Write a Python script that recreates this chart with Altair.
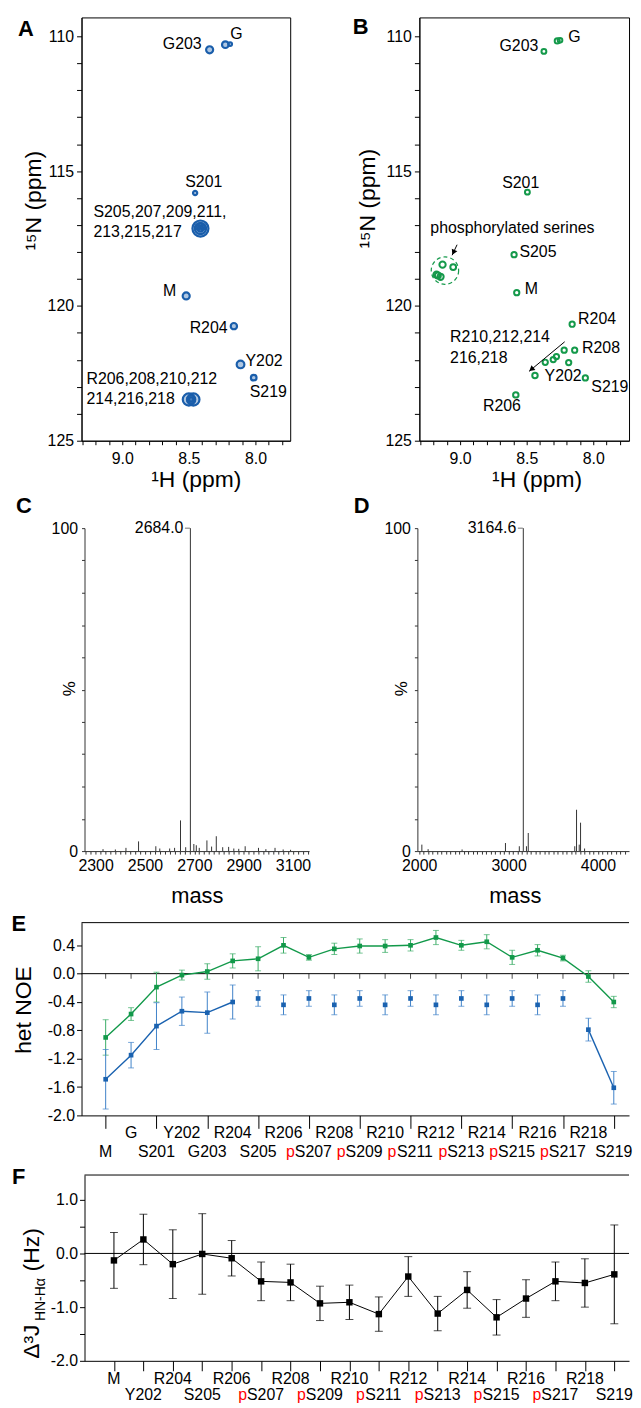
import altair as alt
import pandas as pd

# ============================== DATA ==============================
# ---- Panel A: 1H-15N HSQC, unphosphorylated peptide (1H ppm, 15N ppm) ----
A_peak_h = [8.344, 8.226, 8.190, 8.453, 8.413, 8.413, 8.413, 8.395, 8.432, 8.520,
            8.162, 8.112, 8.013, 8.500, 8.466, 8.483, 8.483]
A_peak_n = [110.50, 110.31, 110.29, 115.81, 117.13, 117.13, 117.13, 117.08, 117.08, 119.63,
            120.75, 122.17, 122.66, 123.47, 123.47, 123.47, 123.47]
A_labels = ["G203", "G", "S201", "S205,207,209,211,", "213,215,217", "M", "R204", "Y202",
            "S219", "R206,208,210,212", "214,216,218"]
A_label_h = [8.344, 8.226, 8.453, 8.413, 8.413, 8.520, 8.162, 8.112, 8.013, 8.483, 8.483]
A_label_n = [110.50, 110.31, 115.81, 117.13, 117.13, 119.63, 120.75, 122.17, 122.66, 123.47, 123.47]

# ---- Panel B: 1H-15N HSQC, phosphorylated peptide ----
B_peak_h = [8.371, 8.271, 8.250, 8.495, 8.595, 8.575, 9.132, 9.052, 9.177, 9.147, 9.167,
            8.159, 8.140, 8.219, 8.277, 8.301, 8.361, 8.185, 8.438, 8.060, 8.582]
B_peak_n = [110.56, 110.17, 110.15, 115.78, 118.10, 119.51, 118.47, 118.56, 118.84, 118.92, 118.87,
            120.68, 121.64, 121.64, 121.88, 121.99, 122.09, 122.10, 122.58, 122.67, 123.30]
B_labels = ["G203", "G", "S201", "S205", "M", "phosphorylated serines", "R204", "R208",
            "R210,212,214", "216,218", "Y202", "S219", "R206"]
B_label_h = [8.371, 8.271, 8.495, 8.595, 8.575, 9.023, 8.159, 8.140, 8.215, 8.215, 8.438, 8.060, 8.582]
B_label_n = [110.56, 110.17, 115.78, 118.10, 119.51, 117.73, 120.68, 121.64, 121.33, 121.33, 122.58, 122.67, 123.30]
B_circle_h = [9.114]
B_circle_n = [118.69]
B_arrow_h0 = [9.023, 8.215]
B_arrow_n0 = [117.73, 121.33]
B_arrow_h1 = [9.060, 8.483]
B_arrow_n1 = [118.12, 122.43]

N_TICKS = list(range(110, 126))
N_LABELS = [110, 115, 120, 125]
H_TICKS = [round(7.8 + 0.1 * k, 1) for k in range(16)]
H_LABELS = [8.0, 8.5, 9.0]

# ---- Panel C: mass spectrum, unphosphorylated ----
C_mass = [2330, 2380, 2423, 2474, 2544, 2560, 2600, 2620, 2644, 2665, 2684.0, 2698, 2708, 2720,
          2751, 2770, 2789, 2815, 2839, 2860, 2880, 2906, 2960, 2990, 3027, 3060, 3090]
C_int = [0.6, 0.5, 1.0, 3.0, 1.5, 0.8, 0.8, 1.0, 9.5, 1.2, 100, 2.2, 1.8, 1.0,
         3.3, 1.4, 4.6, 1.2, 1.3, 0.8, 0.7, 1.5, 1.0, 0.6, 1.0, 0.5, 0.4]
C_peak_label = "2684.0"
C_mass_labels = [2300, 2500, 2700, 2900, 3100]

# ---- Panel D: mass spectrum, phosphorylated ----
D_mass = [2030, 2100, 2480, 2965, 3120, 3164.6, 3200, 3220, 3740, 3760, 3790, 3805, 3850]
D_int = [2.0, 0.6, 0.5, 2.5, 1.5, 100, 1.5, 5.6, 1.5, 12.8, 2.0, 8.8, 0.8]
D_peak_label = "3164.6"
D_mass_labels = [2000, 3000, 4000]
PCT_TICKS = list(range(0, 101, 10))
PCT_LABELS = [0, 100]

# ---- Panel E: heteronuclear NOE ----
E_res = ["M", "G", "S201", "Y202", "G203", "R204", "S205", "R206", "pS207", "R208", "pS209",
         "R210", "pS211", "R212", "pS213", "R214", "pS215", "R216", "pS217", "R218", "S219"]
E_green = [-0.90, -0.57, -0.19, -0.02, 0.03, 0.18, 0.21, 0.40, 0.23, 0.35, 0.39,
           0.39, 0.40, 0.51, 0.40, 0.45, 0.23, 0.33, 0.22, -0.04, -0.40]
E_green_err = [0.25, 0.09, 0.21, 0.07, 0.11, 0.10, 0.17, 0.11, 0.04, 0.08, 0.10,
               0.09, 0.08, 0.10, 0.07, 0.10, 0.10, 0.08, 0.04, 0.08, 0.08]
E_blue = [-1.49, -1.15, -0.74, -0.53, -0.55, -0.40, -0.35, -0.44, -0.35, -0.44, -0.35,
          -0.44, -0.35, -0.44, -0.35, -0.44, -0.35, -0.44, -0.35, -0.79, -1.61]
E_blue_err = [0.42, 0.18, 0.33, 0.20, 0.29, 0.24, 0.11, 0.14, 0.11, 0.14, 0.11,
              0.14, 0.11, 0.14, 0.11, 0.14, 0.11, 0.14, 0.11, 0.16, 0.23]
E_blue_linked = [1, 1, 1, 1, 1, 1, 0, 0, 0, 0, 0, 0, 0, 0, 0, 0, 0, 0, 0, 2, 2]
E_yticks = [-2.0, -1.6, -1.2, -0.8, -0.4, 0.0, 0.4]

# ---- Panel F: Delta 3J(HN-Halpha) ----
F_res = ["M", "Y202", "R204", "S205", "R206", "pS207", "R208", "pS209", "R210", "pS211",
         "R212", "pS213", "R214", "pS215", "R216", "pS217", "R218", "S219"]
F_dJ = [-0.13, 0.26, -0.20, -0.01, -0.09, -0.52, -0.54, -0.93, -0.91, -1.13,
        -0.43, -1.12, -0.68, -1.19, -0.84, -0.52, -0.55, -0.39]
F_err = [0.52, 0.47, 0.64, 0.75, 0.33, 0.36, 0.34, 0.32, 0.32, 0.32,
         0.37, 0.32, 0.34, 0.33, 0.35, 0.36, 0.45, 0.92]
F_yticks = [-2.0, -1.5, -1.0, -0.5, 0.0, 0.5, 1.0]
F_ylabels = [-2.0, -1.0, 0.0, 1.0]

# ============================== STYLE ==============================
FONT = "Liberation Sans"
BLUE_A = "#1a5eab"
GREEN_B = "#14994a"
E_GREEN = "#12994a"
E_GREEN_BAR = "#3aac66"
E_BLUE = "#1a62b0"
E_BLUE_BAR = "#3f82c9"
MS = "#333333"

A_peak_size = [50, 45, 14, 18, 260, 130, 35, 20, 20, 50, 40, 60, 32, 150, 150, 70, 20]
B_peak_size = [24, 26, 22, 24, 28, 28, 40, 34, 40, 40, 36, 28, 28, 28, 28, 28, 28, 28, 30, 28, 30]
# (align, dx, dy) for each label
A_label_style = [("right", -8, -5.7), ("left", 5, -10.6), ("center", 8.7, -11),
                 ("left", -107.7, -16.7), ("left", -107.7, 3.3), ("right", -10, -5),
                 ("right", -6.3, 1.7), ("left", 5, -3.7), ("center", 14.7, 14),
                 ("left", -105.3, -20.7), ("left", -105.3, -0.7)]
B_label_style = [("right", -5.6, -5), ("left", 11, -3.4), ("center", -6.7, -8.7),
                 ("left", 5.4, -2.7), ("left", 8, -4), ("center", 55.7, -16.7),
                 ("left", 6, -5.7), ("left", 7.4, -1.7), ("left", -115.3, -4.3),
                 ("left", -115.3, 16.7), ("left", 9.7, 0.7), ("left", 6, 9.3),
                 ("center", -14, 11.3)]
# (rotation, xOffset, yOffset) of each arrowhead
B_arrow_style = [(205.3, 1.7, -3.6), (230.2, 3.1, -2.6)]


def one(t):
    return pd.DataFrame({"t": [t]})


def free_text(t, x, y, size=16, align="left", baseline="alphabetic", angle=None, bold=False, color="black"):
    kw = dict(align=align, baseline=baseline, fontSize=size, color=color,
              fontWeight="bold" if bold else "normal")
    if angle is not None:
        kw["angle"] = angle
    return alt.Chart(one(t)).mark_text(**kw).encode(x=alt.value(x), y=alt.value(y), text="t:N")


def bounds_anchor(x, y_top, y_bottom):
    # invisible vertical rule fixing the left/top/bottom extent of a row
    return alt.Chart(one("")).mark_rule(opacity=0, strokeWidth=1).encode(
        x=alt.value(x + 0.5), x2=alt.value(x + 0.5), y=alt.value(y_top + 0.5), y2=alt.value(y_bottom - 0.5))


def lab_expr(labels):
    arr = ",".join(str(v) for v in labels)
    return f"indexof([{arr}], datum.value) >= 0 ? replace(datum.label, '\u2212', '-') : ''"


def spacer(w, h):
    return alt.Chart(one("")).mark_point(opacity=0, size=1).encode(
        x=alt.value(1), y=alt.value(1)).properties(width=w, height=h)


# ============================== NMR PANELS ==============================
def nmr_encoders(h_dom, xtitle_x, ytitle_x, ytitle_y):
    ax_h = alt.Axis(values=H_TICKS, labelExpr=lab_expr(H_LABELS), format=".1f", tickSize=4,
                    labelPadding=6, title="¹H  (ppm)", titleX=xtitle_x, titleY=46,
                    titleAlign="center", titleBaseline="alphabetic")
    ax_n = alt.Axis(values=N_TICKS, labelExpr=lab_expr(N_LABELS), format="d", tickSize=5,
                    labelPadding=3, title="¹⁵N  (ppm)", titleX=ytitle_x, titleY=ytitle_y,
                    titleAngle=270, titleAlign="center", titleBaseline="alphabetic")
    sh = alt.Scale(domain=h_dom, reverse=True, nice=False, zero=False)
    sn = alt.Scale(domain=[109.3, 125.0], reverse=True, nice=False, zero=False)

    def X(f):
        return alt.X(f, type="quantitative", scale=sh, axis=ax_h)

    def Y(f):
        return alt.Y(f, type="quantitative", scale=sn, axis=ax_n)
    return X, Y


def label_layers(texts, hs, ns, styles, X, Y, color="black"):
    out = []
    for t, h, n, (al, dx, dy) in zip(texts, hs, ns, styles):
        d = pd.DataFrame({"h": [h], "n": [n], "t": [t]})
        out.append(alt.Chart(d).mark_text(align=al, baseline="middle", dx=dx, dy=dy,
                                          fontSize=16, color=color)
                   .encode(x=X("h"), y=Y("n"), text="t:N"))
    return out


XA, YA = nmr_encoders([7.739, 9.306], 115, -41, 184)
dfA = pd.DataFrame({"h": A_peak_h, "n": A_peak_n, "s": A_peak_size})
fillA = alt.Chart(dfA).mark_point(shape="circle", filled=True, color=BLUE_A, opacity=0.35, strokeWidth=0).encode(
    x=XA("h"), y=YA("n"), size=alt.Size("s:Q", scale=None, legend=None))
peaksA = alt.Chart(dfA).mark_point(shape="circle", filled=False, color=BLUE_A, strokeWidth=2.2, opacity=1).encode(
    x=XA("h"), y=YA("n"), size=alt.Size("s:Q", scale=None, legend=None))
panelA = alt.layer(
    fillA, peaksA,
    *label_layers(A_labels, A_label_h, A_label_n, A_label_style, XA, YA),
    free_text("A", -64, 19, size=22, bold=True),
    bounds_anchor(-74, -5, 480),
).properties(width=210, height=426, view=alt.ViewBackground(stroke="black", strokeWidth=1))

XB, YB = nmr_encoders([7.732, 9.306], 118, -45, 182)
dfB = pd.DataFrame({"h": B_peak_h, "n": B_peak_n, "s": B_peak_size})
peaksB = alt.Chart(dfB).mark_point(shape="circle", filled=False, color=GREEN_B, strokeWidth=2, opacity=1).encode(
    x=XB("h"), y=YB("n"), size=alt.Size("s:Q", scale=None, legend=None))
circleB = alt.Chart(pd.DataFrame({"h": B_circle_h, "n": B_circle_n})).mark_point(
    shape="circle", filled=False, size=760, color=GREEN_B, strokeWidth=1.2, strokeDash=[4, 3], opacity=1
).encode(x=XB("h"), y=YB("n"))
dfArr = pd.DataFrame({"h0": B_arrow_h0, "n0": B_arrow_n0, "h1": B_arrow_h1, "n1": B_arrow_n1})
arrowsB = alt.Chart(dfArr).mark_rule(color="black", strokeWidth=1).encode(
    x=XB("h0"), y=YB("n0"), x2="h1", y2="n1")
heads = []
for k, (ang, ox, oy) in enumerate(B_arrow_style):
    heads.append(alt.Chart(dfArr.iloc[[k]]).mark_point(
        shape="triangle", filled=True, size=38, color="black", angle=ang, xOffset=ox, yOffset=oy, opacity=1
    ).encode(x=XB("h1"), y=YB("n1")))
panelB = alt.layer(
    circleB, peaksB, arrowsB, *heads,
    *label_layers(B_labels, B_label_h, B_label_n, B_label_style, XB, YB),
    free_text("B", -67, 17, size=22, bold=True),
).properties(width=211, height=426, view=alt.ViewBackground(stroke="black", strokeWidth=1))


# ============================== MASS SPECTRA ==============================
def ms_panel(masses, ints, dom, tick_start, tick_step, labels, peak_label, letter, letter_x,
             width, title_x, extra=None):
    ax_m = alt.Axis(values=list(range(tick_start, int(dom[1]) + 1, tick_step)),
                    labelExpr=lab_expr(labels), format="d", tickSize=3, labelPadding=4,
                    title="mass", titleX=title_x, titleY=45, titleAlign="center",
                    titleBaseline="middle", titleFontSize=22, domainColor=MS, tickColor=MS)
    ax_i = alt.Axis(values=PCT_TICKS, labelExpr=lab_expr(PCT_LABELS), format="d", tickSize=3,
                    labelPadding=4, title="%", titleX=-15.5, titleY=161, titleAngle=270,
                    titleAlign="center", titleBaseline="middle", titleFontSize=17,
                    domainColor=MS, tickColor=MS)
    X = alt.X("m", type="quantitative", scale=alt.Scale(domain=dom, nice=False, zero=False), axis=ax_m)
    Y = alt.Y("i", type="quantitative", scale=alt.Scale(domain=[0, 100], nice=False), axis=ax_i)
    df = pd.DataFrame({"m": masses, "i": ints})
    peaks = alt.Chart(df).mark_rule(color=MS, strokeWidth=1).encode(x=X, y=Y, y2=alt.datum(0))
    top = df[df["i"] == df["i"].max()].copy()
    top["t"] = peak_label
    lab = alt.Chart(top).mark_text(align="right", baseline="middle", dx=-7, fontSize=16, color="black").encode(
        x=X, y=Y, text="t:N")
    lead = alt.Chart(top).mark_tick(orient="horizontal", size=5, thickness=1, xOffset=-3, color=MS).encode(x=X, y=Y)
    layers = [peaks, lab, lead, free_text(letter, letter_x, -15, size=22, bold=True)]
    if extra is not None:
        layers.append(extra)
    return alt.layer(*layers).properties(width=width, height=325)


panelC = ms_panel(C_mass, C_int, [2255, 3165], 2260, 20, C_mass_labels, C_peak_label, "C", -69, 226, 113,
                  extra=bounds_anchor(-77, -34, 384))
panelD = ms_panel(D_mass, D_int, [1980, 4347], 2000, 50, D_mass_labels, D_peak_label, "D", -64, 213, 98)

# ============================== PANEL E ==============================
dfE = pd.DataFrame({"i": list(range(len(E_res))), "res": E_res, "g": E_green, "ge": E_green_err,
                    "b": E_blue, "be": E_blue_err, "seg": E_blue_linked})
dfE["g_lo"] = dfE["g"] - dfE["ge"]
dfE["g_hi"] = dfE["g"] + dfE["ge"]
dfE["b_lo"] = dfE["b"] - dfE["be"]
dfE["b_hi"] = dfE["b"] + dfE["be"]
dfE["row"] = [2 if k % 2 == 0 else 1 for k in dfE["i"]]
dfE["p"] = dfE["res"].str.startswith("p")
dfE["main"] = [r[1:] if r.startswith("p") else r for r in dfE["res"]]

sxE = alt.Scale(domain=[-0.95, 20.6], nice=False, zero=False)
syE = alt.Scale(domain=[-2.0, 0.72], nice=False, zero=False)
ax_xE = alt.Axis(values=list(range(0, 21, 2)), labels=False, tickSize=13, title=None)
ax_yE = alt.Axis(values=E_yticks, format=".1f", labelExpr="replace(datum.label, '\u2212', '-')",
                 tickSize=5, labelPadding=2, title=None)


def XE(f):
    return alt.X(f, type="quantitative", scale=sxE, axis=ax_xE)


def YE(f):
    return alt.Y(f, type="quantitative", scale=syE, axis=ax_yE)


def YEd(v):
    return alt.YDatum(v, type="quantitative", scale=syE, axis=ax_yE)


baseE = alt.Chart(dfE)
E_layers = [
    alt.Chart(one("")).mark_rule(color="black", strokeWidth=1).encode(y=YEd(0.72)),
    alt.Chart(one("")).mark_rule(color="black", strokeWidth=1).encode(y=YEd(0.0)),
    baseE.mark_tick(orient="vertical", size=5, thickness=1, yOffset=2.5, color="black").encode(x=XE("i"), y=YEd(0.0)),
    baseE.mark_rule(color=E_GREEN_BAR, strokeWidth=1).encode(x=XE("i"), y=YE("g_lo"), y2="g_hi"),
    baseE.mark_tick(orient="horizontal", size=6, thickness=1, color=E_GREEN_BAR).encode(x=XE("i"), y=YE("g_lo")),
    baseE.mark_tick(orient="horizontal", size=6, thickness=1, color=E_GREEN_BAR).encode(x=XE("i"), y=YE("g_hi")),
    baseE.mark_rule(color=E_BLUE_BAR, strokeWidth=1).encode(x=XE("i"), y=YE("b_lo"), y2="b_hi"),
    baseE.mark_tick(orient="horizontal", size=6, thickness=1, color=E_BLUE_BAR).encode(x=XE("i"), y=YE("b_lo")),
    baseE.mark_tick(orient="horizontal", size=6, thickness=1, color=E_BLUE_BAR).encode(x=XE("i"), y=YE("b_hi")),
    baseE.mark_line(color=E_GREEN, strokeWidth=1.4).encode(x=XE("i"), y=YE("g")),
    baseE.transform_filter("datum.seg > 0").mark_line(color=E_BLUE, strokeWidth=1.4).encode(
        x=XE("i"), y=YE("b"), detail="seg:N"),
    baseE.mark_square(size=22, color=E_GREEN, opacity=1).encode(x=XE("i"), y=YE("g")),
    baseE.mark_square(size=22, color=E_BLUE, opacity=1).encode(x=XE("i"), y=YE("b")),
    baseE.transform_filter("datum.row == 1").mark_text(baseline="middle", dy=18, fontSize=16, color="black").encode(
        x=XE("i"), y=YEd(-2.0), text="res:N"),
    baseE.transform_filter("datum.row == 2 && !datum.p").mark_text(baseline="middle", dy=37, fontSize=16, color="black").encode(
        x=XE("i"), y=YEd(-2.0), text="main:N"),
    baseE.transform_filter("datum.row == 2 && datum.p").mark_text(baseline="middle", dy=37, dx=4.45, fontSize=16, color="black").encode(
        x=XE("i"), y=YEd(-2.0), text="main:N"),
    baseE.transform_filter("datum.row == 2 && datum.p").mark_text(baseline="middle", dy=37, dx=-14.2, align="right",
                                                                  fontSize=16, color="#ff0000", text="p").encode(
        x=XE("i"), y=YEd(-2.0)),
    free_text("het NOE", -51, 88, size=23, align="center", angle=270),
    free_text("E", -70.5, 8, size=22, bold=True),
    bounds_anchor(-74, -13, 242),
]
panelE = alt.layer(*E_layers).properties(width=551, height=194)

# ============================== PANEL F ==============================
dfF = pd.DataFrame({"i": list(range(len(F_res))), "res": F_res, "v": F_dJ, "e": F_err})
dfF["lo"] = dfF["v"] - dfF["e"]
dfF["hi"] = dfF["v"] + dfF["e"]
dfF["row"] = [1 if k % 2 == 0 else 2 for k in dfF["i"]]
dfF["p"] = dfF["res"].str.startswith("p")
dfF["main"] = [r[1:] if r.startswith("p") else r for r in dfF["res"]]

sxF = alt.Scale(domain=[-1.0, 17.5], nice=False, zero=False)
syF = alt.Scale(domain=[-2.0, 1.46], nice=False, zero=False)
ax_xF = alt.Axis(values=list(range(0, 18)), labels=False, tickSize=10, title=None)
ax_yF = alt.Axis(values=F_yticks, format=".1f", labelExpr=lab_expr(F_ylabels), tickSize=5,
                 labelPadding=2, title=None)


def XF(f):
    return alt.X(f, type="quantitative", scale=sxF, axis=ax_xF)


def YF(f):
    return alt.Y(f, type="quantitative", scale=syF, axis=ax_yF)


def YFd(v):
    return alt.YDatum(v, type="quantitative", scale=syF, axis=ax_yF)


baseF = alt.Chart(dfF)
F_layers = [
    alt.Chart(one("")).mark_rule(color="black", strokeWidth=1).encode(y=YFd(1.46)),
    alt.Chart(one("")).mark_rule(color="black", strokeWidth=1).encode(y=YFd(0.0)),
    baseF.mark_rule(color="black", strokeWidth=1).encode(x=XF("i"), y=YF("lo"), y2="hi"),
    baseF.mark_tick(orient="horizontal", size=8, thickness=1, color="black").encode(x=XF("i"), y=YF("lo")),
    baseF.mark_tick(orient="horizontal", size=8, thickness=1, color="black").encode(x=XF("i"), y=YF("hi")),
    baseF.mark_line(color="black", strokeWidth=1).encode(x=XF("i"), y=YF("v")),
    baseF.mark_square(size=42, color="black", opacity=1).encode(x=XF("i"), y=YF("v")),
    baseF.transform_filter("datum.row == 1").mark_text(baseline="middle", dy=18, fontSize=16, color="black").encode(
        x=XF("i"), y=YFd(-2.0), text="res:N"),
    baseF.transform_filter("datum.row == 2 && !datum.p").mark_text(baseline="middle", dy=34, fontSize=16, color="black").encode(
        x=XF("i"), y=YFd(-2.0), text="main:N"),
    baseF.transform_filter("datum.row == 2 && datum.p").mark_text(baseline="middle", dy=34, dx=4.45, fontSize=16, color="black").encode(
        x=XF("i"), y=YFd(-2.0), text="main:N"),
    baseF.transform_filter("datum.row == 2 && datum.p").mark_text(baseline="middle", dy=34, dx=-14.2, align="right",
                                                                  fontSize=16, color="#ff0000", text="p").encode(
        x=XF("i"), y=YFd(-2.0)),
    free_text("Δ³J", -46, 185, size=23, align="left", angle=270),
    free_text("HN-Hα", -40, 147, size=14, align="left", angle=270),
    free_text("(Hz)", -46, 97, size=23, align="left", angle=270),
    free_text("F", -73, 9, size=22, bold=True),
    bounds_anchor(-77, -12, 232),
]
panelF = alt.layer(*F_layers).properties(width=548, height=187)

# ============================== LAYOUT ==============================
row1 = alt.hconcat(panelA, panelB, spacing=130, bounds="flush")
row2 = alt.hconcat(spacer(3, 1), panelC, spacer(109, 1), panelD, spacing=0, bounds="flush")
rowF = alt.hconcat(spacer(3, 1), panelF, spacing=0, bounds="flush")

chart = alt.vconcat(row1, row2, panelE, rowF, spacing=0).properties(
    padding={"left": 0, "top": 0, "right": 0, "bottom": 0}
).configure(font=FONT).configure_view(stroke=None).configure_axis(
    labelFont=FONT, titleFont=FONT, labelFontSize=16, labelColor="black", titleColor="black",
    titleFontSize=23, titleFontWeight="normal", domainColor="black", tickColor="black",
    grid=False, labelFlush=False, labelOverlap=False
).configure_text(font=FONT)

chart.save("out.html", embed_options={"renderer": "svg", "actions": False})
